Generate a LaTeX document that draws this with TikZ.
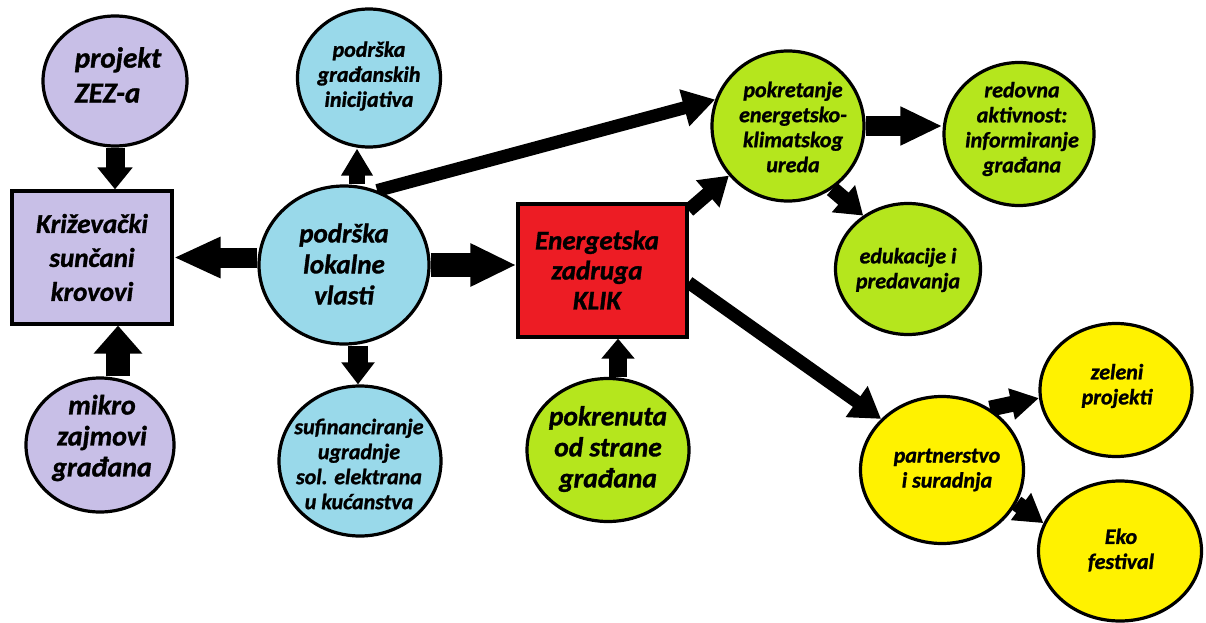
\documentclass[tikz,border=0pt]{standalone}
\usepackage{fontspec}
\setmainfont{Carlito}[BoldItalicFeatures={FakeBold=1.2}]
\usetikzlibrary{shapes.geometric,arrows.meta,backgrounds}
\definecolor{lav}{HTML}{C8BFE7}
\definecolor{sky}{HTML}{99D9EA}
\definecolor{rd}{HTML}{ED1C24}
\definecolor{grn}{HTML}{B5E61D}
\definecolor{ylw}{HTML}{FFF200}
\tikzset{
  ell/.style={ellipse, draw=black, line width=3.2pt, inner sep=0pt},
  rbox/.style={rectangle, draw=black, line width=3.2pt, inner sep=0pt},
  tsmall/.style={align=center, inner sep=0pt, font=\bfseries\itshape\fontsize{22}{25}\selectfont},
  tbig/.style args={#1/#2}{align=center, inner sep=0pt, font=\bfseries\itshape\fontsize{#1}{#2}\selectfont},
  fat/.style args={#1/#2/#3}{draw=black, line width=#1, -{Triangle[length=#2,width=#3]}}
}
\begin{document}
\begin{tikzpicture}[x=1pt,y=-1pt]
\useasboundingbox (0,0) rectangle (1206,623);
% ---- shapes
\node[ell, fill=lav, minimum width=144pt, minimum height=130pt] (zez) at (115,81) {};
\node[tbig=29/35, align=left] (tzez) at (118,75) {projekt\\ZEZ-a};
\node[rbox, fill=lav, minimum width=160pt, minimum height=133pt, tbig=27/34] (box) at (92,257.5) {Križevački\\sunčani\\krovovi};
\node[ell, fill=lav, minimum width=148pt, minimum height=134pt] (mikro) at (100,445) {};
\node[tbig=28/31] (tmikro) at (102,438) {mikro\\zajmovi\\građana};
\node[ell, fill=sky, minimum width=170pt, minimum height=158pt] (lok) at (344,265) {};
\node[tbig=27/31] (tlok) at (344,264) {podrška\\lokalne\\vlasti};
\node[ell, fill=sky, minimum width=143pt, minimum height=138pt] (grad) at (369,78) {};
\node[tsmall] (tgrad) at (369,76) {podrška\\građanskih\\inicijativa};
\node[ell, fill=sky, minimum width=162pt, minimum height=150pt] (suf) at (360,461) {};
\node[tsmall] (tsuf) at (359,464) {sufinanciranje\\ugradnje\\sol. elektrana\\u kućanstva};
\node[rbox, fill=rd, minimum width=169pt, minimum height=133pt] (klik) at (602.5,270.5) {};
\node[tbig=27/30] (tklik) at (597,270) {Energetska\\zadruga\\KLIK};
\node[ell, fill=grn, minimum width=162pt, minimum height=143pt] (pokr) at (608,450) {};
\node[tbig=27.5/31] (tpokr) at (608,449) {pokrenuta\\od strane\\građana};
\node[ell, fill=grn, minimum width=152pt, minimum height=150pt] (pok) at (788,126) {};
\node[tsmall] (tpok) at (793,127) {pokretanje\\energetsko-\\klimatskog\\ureda};
\node[ell, fill=grn, minimum width=150pt, minimum height=143pt] (red) at (1019,134) {};
\node[tsmall] (tred) at (1022,129) {redovna\\aktivnost:\\informiranje\\građana};
\node[ell, fill=grn, minimum width=145pt, minimum height=131pt] (edu) at (908,269) {};
\node[tsmall] (tedu) at (908,270) {edukacije i\\predavanja};
\node[ell, fill=ylw, minimum width=152pt, minimum height=133pt] (zel) at (1116,390) {};
\node[tsmall] (tzel) at (1117,386) {zeleni\\projekti};
\node[ell, fill=ylw, minimum width=163pt, minimum height=147pt] (part) at (942,470) {};
\node[tsmall] (tpart) at (947,470) {partnerstvo\\i suradnja};
\node[ell, fill=ylw, minimum width=163pt, minimum height=140pt] (eko) at (1120,551) {};
\node[tsmall] (teko) at (1121,550) {Eko\\festival};
% ---- connectors
\begin{pgfonlayer}{background}
\draw[fat=19pt/22pt/34pt] (zez.south) -- (zez.south |- box.north);
\draw[fat=24pt/28pt/47pt] ([xshift=18pt]mikro.north) -- ([xshift=18pt]mikro.north |- box.south);
\draw[fat=20pt/47pt/38pt] (lok.west |- box.east) -- (box.east);
\draw[fat=16pt/27pt/30pt] ([xshift=13pt]lok.north) -- ([xshift=13pt]lok.north |- grad.south);
\draw[fat=20pt/22pt/32pt] ([xshift=14pt]lok.south) -- ([xshift=14pt]lok.south |- suf.north);
\draw[fat=13pt/32pt/36pt] (lok.66) -- (pok.160);
\draw[fat=24pt/46pt/40pt] (lok.east) -- (lok.east -| klik.west);
\draw[fat=18pt/20pt/32pt] ([xshift=10pt]pokr.north) -- ([xshift=10pt]pokr.north |- klik.south);
\draw[fat=14pt/28pt/34pt] ([yshift=-8pt]klik.north east) -- (pok.220);
\draw[fat=13pt/30pt/36pt] ([yshift=-12pt]klik.east) -- (part.140);
\draw[fat=20pt/42pt/36pt] (pok.east) -- (pok.east -| red.west);
\draw[fat=16pt/26pt/34pt] (pok.305) -- (edu.130);
\draw[fat=16pt/28pt/30pt] (part.52) -- (zel.186);
\draw[fat=16pt/28pt/32pt] (part.336) -- (eko.160);
\end{pgfonlayer}
\end{tikzpicture}
\end{document}
